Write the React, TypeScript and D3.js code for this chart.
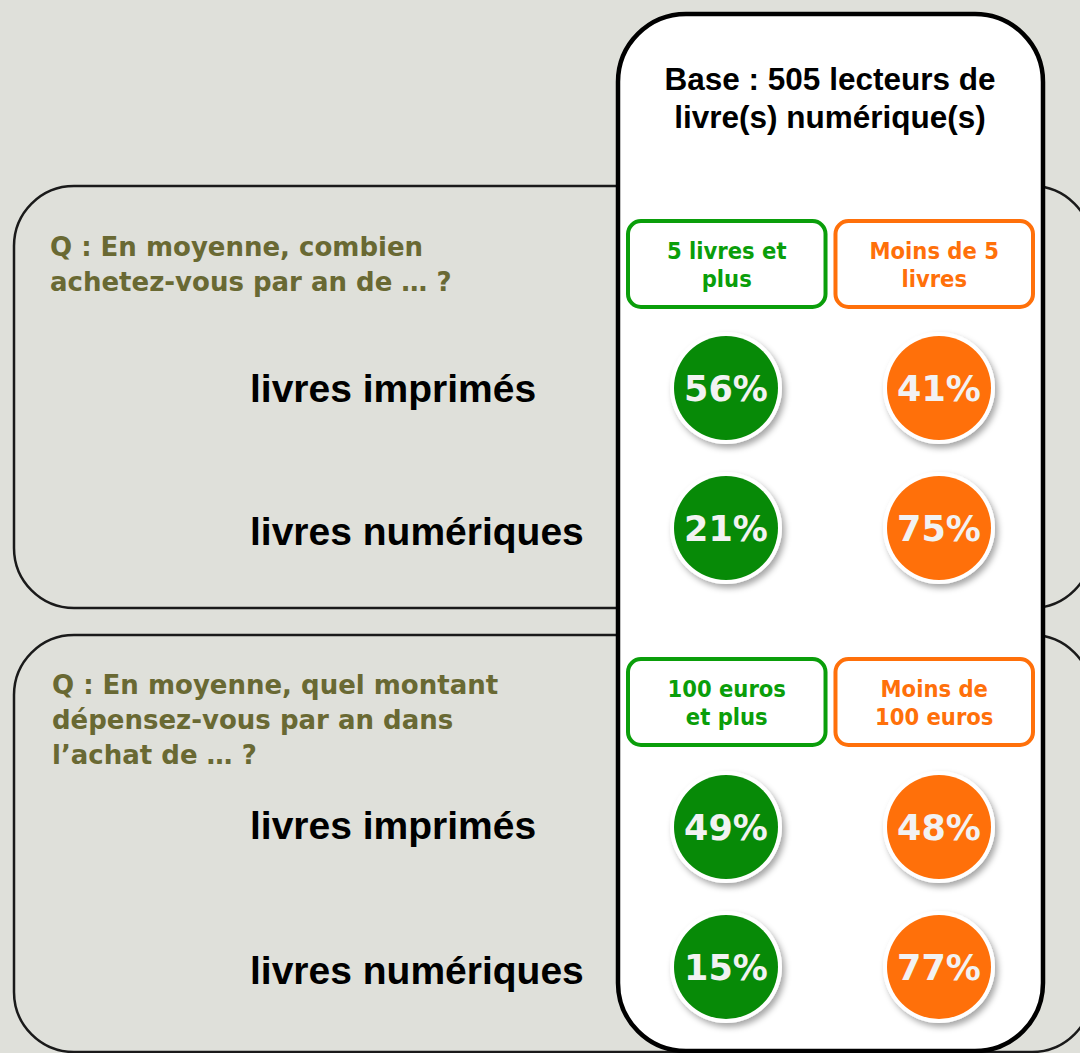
import React from "react";
import * as d3 from "d3";

const title = ["Base : 505 lecteurs de", "livre(s) numérique(s)"];
const questions = [
  ["Q : En moyenne, combien", "achetez-vous par an de … ?"],
  ["Q : En moyenne, quel montant", "dépensez-vous par an dans", "l’achat de … ?"],
];
const headers = [
  [["5 livres et", "plus"], ["Moins de 5", "livres"]],
  [["100 euros", "et plus"], ["Moins de", "100 euros"]],
];
const rowLabels = ["livres imprimés", "livres numériques"];
const seriesKeys = ["high", "low"];
const highValues = [
  [56, 21],
  [49, 15],
];
const lowValues = [
  [41, 75],
  [48, 77],
];

const W = 1080;
const H = 1053;
const BG = "#dfe0da";
const GREEN = "#078a07";
const GREEN_LINE = "#0a9e0a";
const ORANGE = "#ff700a";
const OLIVE = "#696933";

export default function App() {
  const panelY = d3.scaleOrdinal<number, number>().domain([0, 1]).range([186, 635]);
  const panelH = [422, 417];
  const col = d3.scaleBand().domain(seriesKeys).range([628, 1033]).paddingInner(0.048).paddingOuter(0);
  const circleX = d3.scaleOrdinal<string, number>().domain(seriesKeys).range([726, 939]);
  const rowY = (p: number) =>
    d3.scalePoint<string>().domain(rowLabels).range(p === 0 ? [388, 528] : [827, 967]);
  const labelY = (p: number) =>
    d3.scalePoint<string>().domain(rowLabels).range(p === 0 ? [402, 545] : [839, 984]);
  const colors = d3.scaleOrdinal<string, string>().domain(seriesKeys).range([GREEN, ORANGE]);
  const lineColors = d3.scaleOrdinal<string, string>().domain(seriesKeys).range([GREEN_LINE, ORANGE]);
  const values = [highValues, lowValues];

  return (
    <svg width={W} height={H} style={{ position: "absolute", left: 0, top: 0 }}>
      <defs>
        <filter id="sh" x="-30%" y="-30%" width="160%" height="160%">
          <feDropShadow dx="3" dy="4" stdDeviation="3" floodColor="#000" floodOpacity="0.35" />
        </filter>
      </defs>
      <rect x={0} y={0} width={W} height={H} fill={BG} />
      {[0, 1].map((p) => (
        <rect key={p} x={14} y={panelY(p)} width={1078} height={panelH[p]} rx={60} ry={60}
          fill={BG} stroke="#1a1a1a" strokeWidth={2.5} />
      ))}
      <rect x={618} y={14} width={425} height={1037} rx={68} ry={68} fill="#fff" stroke="#000" strokeWidth={4.5} />
      <g fontFamily="Liberation Sans, Arial, sans-serif" fontWeight="bold" fontSize={31.5} fill="#000" textAnchor="middle">
        {title.map((t, i) => (
          <text key={i} x={830} y={90 + i * 38}>{t}</text>
        ))}
      </g>
      {questions.map((lines, p) => (
        <g key={p} fontFamily="DejaVu Sans, sans-serif" fontWeight="bold" fontSize={26} fill={OLIVE}>
          {lines.map((t, i) => (
            <text key={i} x={p === 0 ? 50 : 52} y={panelY(p) + (p === 0 ? 70 : 59) + i * 35}>{t}</text>
          ))}
        </g>
      ))}
      {headers.map((pair, p) => {
        const top = p === 0 ? 221 : 659;
        return (
          <g key={p}>
            {seriesKeys.map((k, j) => (
              <g key={k}>
                <rect x={col(k) as number} y={top} width={col.bandwidth()} height={86} rx={13} ry={13}
                  fill="#fff" stroke={lineColors(k)} strokeWidth={4} />
                {pair[j].map((t, i) => (
                  <text key={i} x={(col(k) as number) + col.bandwidth() / 2} y={top + 38 + i * 28}
                    textAnchor="middle" fontFamily="DejaVu Sans Condensed, DejaVu Sans, sans-serif" fontWeight="bold"
                    fontSize={23.5} fill={lineColors(k)}>{t}</text>
                ))}
              </g>
            ))}
          </g>
        );
      })}
      {[0, 1].map((p) => {
        const y = rowY(p);
        const ly = labelY(p);
        return (
          <g key={p}>
            {rowLabels.map((r, ri) => (
              <g key={r}>
                <text x={250} y={ly(r)} fontFamily="Liberation Sans, Arial, sans-serif"
                  fontWeight="bold" fontSize={39} fill="#000">{r}</text>
                {seriesKeys.map((k, si) => (
                  <g key={k}>
                    <circle cx={circleX(k)} cy={y(r)} r={56} fill="#fff" filter="url(#sh)" />
                    <circle cx={circleX(k)} cy={y(r)} r={52} fill={colors(k)} />
                    <text x={circleX(k)} y={(y(r) as number) + 12.5} textAnchor="middle"
                      fontFamily="DejaVu Sans, Verdana, sans-serif" fontWeight="bold" fontSize={35}
                      fill="#f2f2f2">{values[si][p][ri]}%</text>
                  </g>
                ))}
              </g>
            ))}
          </g>
        );
      })}
    </svg>
  );
}
